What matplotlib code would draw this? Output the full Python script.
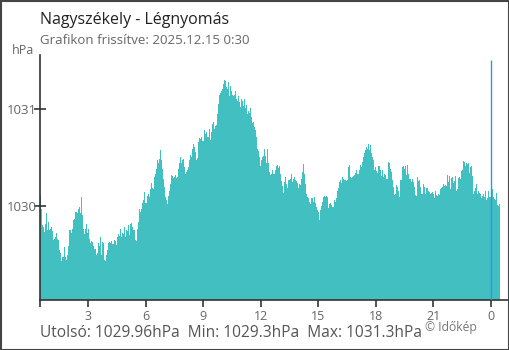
import numpy as np
import matplotlib
matplotlib.use("Agg")
import matplotlib.pyplot as plt
from matplotlib.patches import Rectangle

plt.rcParams["font.family"] = ["Open Sans", "DejaVu Sans"]

# Chart texts
title = "Nagyszékely - Légnyomás"
subtitle = "Grafikon frissítve: 2025.12.15 0:30"
unit = "hPa"
summary = "Utolsó: 1029.96hPa  Min: 1029.3hPa  Max: 1031.3hPa"
credit = "© Időkép"

# Time axis (hours, 0:30 yesterday -> 0:30 today)
start_hour = 0.5
span_hours = 24.0
xtick_hours = [0.5, 3, 6, 9, 12, 15, 18, 21, 24]
xtick_labels = ["", "3", "6", "9", "12", "15", "18", "21", "0"]
ytick_values = [1030, 1031]
midnight_hour = 24

# Pressure readings (hPa)
pressure_first_half = [
    1030.12, 1029.97, 1029.81, 1029.79, 1029.74, 1029.82, 1029.93, 1029.76, 1029.84, 1029.76,
    1029.77, 1029.79, 1029.75, 1029.65, 1029.66, 1029.69, 1029.73, 1029.67, 1029.65, 1029.55,
    1029.52, 1029.44, 1029.48, 1029.48, 1029.58, 1029.48, 1029.45, 1029.50, 1029.59, 1029.76,
    1029.76, 1029.73, 1029.77, 1029.86, 1029.87, 1029.94, 1029.94, 1029.93, 1029.97, 1029.99,
    1029.93, 1030.10, 1029.91, 1029.77, 1029.72, 1029.77, 1029.82, 1029.73, 1029.77, 1029.67,
    1029.62, 1029.64, 1029.63, 1029.59, 1029.56, 1029.56, 1029.50, 1029.52, 1029.62, 1029.59,
    1029.69, 1029.50, 1029.63, 1029.62, 1029.45, 1029.44, 1029.50, 1029.55, 1029.62, 1029.63,
    1029.62, 1029.64, 1029.61, 1029.61, 1029.65, 1029.64, 1029.60, 1029.69, 1029.72, 1029.70,
    1029.77, 1029.69, 1029.73, 1029.72, 1029.79, 1029.69, 1029.76, 1029.75, 1029.81, 1029.71,
    1029.82, 1029.83, 1029.79, 1029.76, 1029.76, 1029.65, 1029.64, 1029.77, 1029.84, 1029.97,
    1029.94, 1029.97, 1030.03, 1030.06, 1030.15, 1030.03, 1030.03, 1030.11, 1030.13, 1030.10,
    1030.18, 1030.24, 1030.19, 1030.18, 1030.30, 1030.33, 1030.38, 1030.47, 1030.44, 1030.48,
    1030.58, 1030.47, 1030.38, 1030.28, 1030.20, 1030.10, 1030.06, 1030.02, 1030.11, 1030.16,
    1030.23, 1030.32, 1030.31, 1030.29, 1030.30, 1030.32, 1030.29, 1030.30, 1030.38, 1030.44,
    1030.50, 1030.44, 1030.47, 1030.48, 1030.40, 1030.33, 1030.35, 1030.37, 1030.40, 1030.47,
    1030.53, 1030.50, 1030.59, 1030.64, 1030.61, 1030.56, 1030.47, 1030.49, 1030.66, 1030.70,
    1030.69, 1030.71, 1030.67, 1030.67, 1030.78, 1030.74, 1030.76, 1030.71, 1030.79, 1030.68,
    1030.76, 1030.84, 1030.86, 1030.79, 1030.82, 1030.83, 1030.95, 1031.05, 1031.14, 1031.16,
    1031.18, 1031.20, 1031.25, 1031.29, 1031.28, 1031.22, 1031.20, 1031.27, 1031.13, 1031.23,
    1031.18, 1031.14, 1031.13, 1031.14, 1031.18, 1031.10, 1031.08, 1031.13, 1031.07, 1031.02,
    1031.10, 1031.08, 1031.03, 1031.10, 1031.01, 1031.04, 1030.95, 1030.98, 1030.96, 1031.01,
    1030.91, 1030.85, 1030.86, 1030.81, 1030.78, 1030.71, 1030.59, 1030.57, 1030.50, 1030.41,
    1030.47, 1030.51, 1030.52, 1030.59, 1030.52, 1030.44, 1030.59, 1030.44, 1030.35,
]
pressure_second_half = [
    1030.32, 1030.33, 1030.37, 1030.33, 1030.33, 1030.37, 1030.41, 1030.42, 1030.39, 1030.41,
    1030.33, 1030.26, 1030.21, 1030.14, 1030.25, 1030.30, 1030.23, 1030.19, 1030.27, 1030.27,
    1030.28, 1030.33, 1030.25, 1030.28, 1030.30, 1030.27, 1030.26, 1030.24, 1030.19, 1030.23,
    1030.22, 1030.28, 1030.35, 1030.43, 1030.33, 1030.23, 1030.13, 1030.10, 1030.08, 1030.04,
    1030.02, 1030.08, 1030.08, 1030.04, 1030.10, 1030.03, 1029.99, 1029.96, 1029.94, 1029.86,
    1029.96, 1030.00, 1030.04, 1030.10, 1030.11, 1030.10, 1030.11, 1030.10, 1029.98, 1030.02,
    1030.03, 1030.01, 1029.99, 1029.99, 1030.06, 1030.04, 1030.08, 1030.16, 1030.19, 1030.25,
    1030.27, 1030.24, 1030.30, 1030.28, 1030.27, 1030.27, 1030.26, 1030.27, 1030.40, 1030.42,
    1030.30, 1030.29, 1030.30, 1030.31, 1030.32, 1030.34, 1030.37, 1030.33, 1030.33, 1030.37,
    1030.42, 1030.40, 1030.45, 1030.51, 1030.55, 1030.58, 1030.61, 1030.59, 1030.64, 1030.58,
    1030.63, 1030.55, 1030.50, 1030.47, 1030.37, 1030.40, 1030.36, 1030.34, 1030.41, 1030.41,
    1030.37, 1030.31, 1030.37, 1030.30, 1030.33, 1030.32, 1030.28, 1030.28, 1030.45, 1030.44,
    1030.38, 1030.35, 1030.27, 1030.20, 1030.12, 1030.13, 1030.22, 1030.20, 1030.16, 1030.10,
    1030.27, 1030.27, 1030.40, 1030.41, 1030.38, 1030.41, 1030.32, 1030.42, 1030.33, 1030.28,
    1030.28, 1030.25, 1030.28, 1030.25, 1030.20, 1030.12, 1030.11, 1030.30, 1030.26, 1030.27,
    1030.20, 1030.13, 1030.13, 1030.23, 1030.20, 1030.13, 1030.19, 1030.19, 1030.16, 1030.15,
    1030.13, 1030.14, 1030.15, 1030.13, 1030.09, 1030.16, 1030.12, 1030.11, 1030.13, 1030.12,
    1030.18, 1030.19, 1030.20, 1030.23, 1030.21, 1030.22, 1030.21, 1030.32, 1030.25, 1030.31,
    1030.18, 1030.29, 1030.30, 1030.24, 1030.26, 1030.31, 1030.16, 1030.18, 1030.29, 1030.30,
    1030.28, 1030.36, 1030.37, 1030.46, 1030.45, 1030.41, 1030.44, 1030.43, 1030.44, 1030.34,
    1030.40, 1030.41, 1030.31, 1030.13, 1030.16, 1030.19, 1030.23, 1030.13, 1030.16, 1030.14,
    1030.13, 1030.09, 1030.11, 1030.13, 1030.10, 1030.16, 1030.06, 1030.09, 1030.16, 1030.10,
    1030.10, 1030.10, 1030.18, 1030.10, 1030.07, 1030.06, 1030.14, 1030.01, 1030.00, 1030.02,
]
pressure = np.array(pressure_first_half + pressure_second_half)

W, H = 510, 350
fig = plt.figure(figsize=(W / 100, H / 100), dpi=100)
ax = fig.add_axes([40 / W, 1 - 300 / H, 469 / W, 245 / H])

# Bars (one per reading)
step = span_hours / len(pressure)
hours = start_hour + np.arange(len(pressure)) * step
y_bottom = 1029.04
ax.bar(hours, pressure - y_bottom, bottom=y_bottom, width=step, align="edge",
       color="#42c0c1", linewidth=0)

ax.set_xlim(start_hour, 24.95)
ax.set_ylim(y_bottom, 1031.55)

# Midnight marker
ax.vlines(midnight_hour, y_bottom, 1031.5, color="#3096e0", linewidth=1.0, zorder=3)

# Axes styling
for side in ["top", "right"]:
    ax.spines[side].set_visible(False)
for side in ["left", "bottom"]:
    ax.spines[side].set_color("#333333")
    ax.spines[side].set_linewidth(1.2)

ax.set_xticks(xtick_hours)
ax.set_xticklabels(xtick_labels)
ax.set_yticks(ytick_values)
ax.set_yticklabels([str(v) for v in ytick_values])
ax.tick_params(axis="x", direction="out", length=5, width=1.2, color="#333333",
               labelsize=9, labelcolor="#666666", pad=2)
ax.tick_params(axis="y", direction="inout", length=9, width=1.2, color="#333333",
               labelsize=9.5, labelcolor="#666666", pad=-2)
ax.get_xticklines()[-2].set_color("#3096e0")

# Texts
fig.text(40 / W, 1 - 20 / H, title, fontsize=11.5, color="#222222", va="center", ha="left")
fig.text(40 / W, 1 - 41 / H, subtitle, fontsize=9.5, color="#666666", va="center", ha="left")
fig.text(12 / W, 1 - 50 / H, unit, fontsize=9, color="#666666", va="center", ha="left")
fig.text(40 / W, 1 - 333 / H, summary, fontsize=11.2, color="#555555", va="center", ha="left")
fig.text(425 / W, 1 - 328 / H, credit, fontsize=8.7, color="#777777", va="center", ha="left")

# Figure border
fig.patches.append(Rectangle((0.5 / W, 0.5 / H), 1 - 1.5 / W, 1 - 1.5 / H, transform=fig.transFigure,
                             fill=False, edgecolor="#444444", linewidth=1.5))

fig.savefig("out.png", dpi=100)
